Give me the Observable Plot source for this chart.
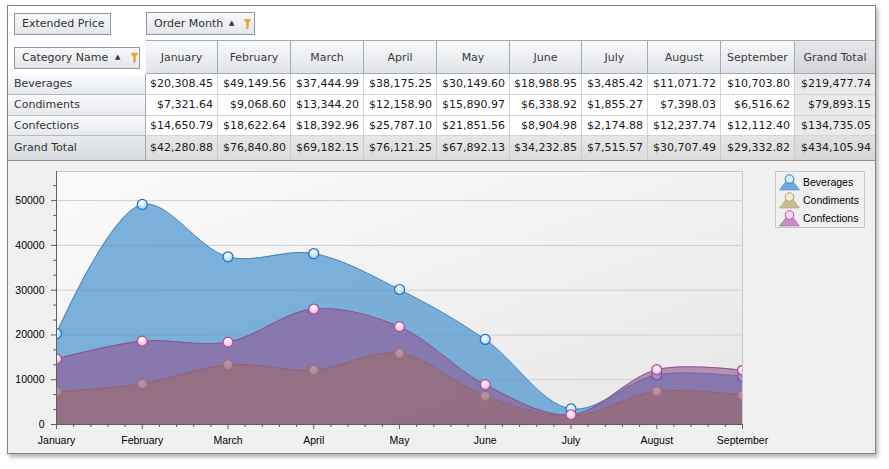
<!DOCTYPE html>
<html>
<head>
<meta charset="utf-8">
<script src="https://cdn.jsdelivr.net/npm/d3@7"></script>
<script src="https://cdn.jsdelivr.net/npm/@observablehq/plot@0.6"></script>
<style>
  html, body { margin: 0; padding: 0; }
  body { width: 889px; height: 469px; position: relative; background: #ffffff; overflow: hidden;
         font-family: "DejaVu Sans", Verdana, sans-serif; font-size: 11px; color: #222; }
  .frame { position: absolute; left: 7px; top: 5px; width: 869px; height: 449px; box-sizing: border-box;
           border: 1px solid #858585; background: #fff; box-shadow: 2px 3px 4px rgba(0,0,0,0.3); }
  .chartbg { position: absolute; left: 8px; top: 160px; width: 867px; height: 293px; box-sizing: border-box;
             border-top: 1px solid #8f8f8f; background: #f0f0f0; }
  .cell { position: absolute; box-sizing: border-box; white-space: nowrap; overflow: hidden; }
  .hdr { background: linear-gradient(#f8f9fb, #e1e4e9); border-top: 1px solid #a3abb7; border-right: 1px solid #a3abb7;
         border-bottom: 1px solid #a3abb7; text-align: center; color: #3a3a3a; }
  .hdrTot { background: linear-gradient(#e6e7ea, #d3d5d9); border-top: 1px solid #a3abb7; border-bottom: 1px solid #a3abb7;
            text-align: center; color: #3a3a3a; }
  .rowh { background: linear-gradient(#fbfbfc, #e6e9ed); border-right: 1px solid #a3abb7; border-bottom: 1px solid #b4bac3;
          padding-left: 6px; color: #333; }
  .rowhTot { background: linear-gradient(#e9eaec, #d6d9dd); border-right: 1px solid #a3abb7; padding-left: 6px; color: #333; }
  .num { background: #fff; border-right: 1px solid #d4d4d4; border-bottom: 1px solid #d4d4d4; text-align: right; padding-right: 4px; color: #1a1a1a; }
  .numTotCol { background: #eaeaea; border-bottom: 1px solid #d4d4d4; text-align: right; padding-right: 4px; color: #1a1a1a; }
  .numTotRow { background: linear-gradient(#e6e6e6, #dcdcdc); border-right: 1px solid #cacaca; text-align: right; padding-right: 4px; color: #1a1a1a; }
  .numGrand { background: linear-gradient(#e0e0e0, #d6d6d6); text-align: right; padding-right: 4px; color: #1a1a1a; }
  .btn { position: absolute; box-sizing: border-box; border: 1px solid #8d97a5; background: linear-gradient(#f8f9fb, #e3e6ea);
         color: #333; white-space: nowrap; padding-left: 7px; }
  .arrow { font-size: 7px; color: #333; position: absolute; top: 0; }
  .funnel { position: absolute; display: block; }
  .funnel svg { display: block; }
  .legend { position: absolute; left: 775px; top: 171px; width: 90px; height: 57px; box-sizing: border-box;
            border: 1px solid #c8c8c8; background: #f0f0f0; font-family: "Liberation Sans", Arial, sans-serif; font-size: 10.5px; color: #000; }
  .litem { position: absolute; left: 2px; height: 18px; line-height: 18px; }
  .litem svg { position: absolute; left: 0; top: 0; }
  .litem span { position: absolute; left: 25px; top: 0; white-space: nowrap; }
  #chart { position: absolute; left: 0; top: 161px; }
</style>
</head>
<body>
<svg width="0" height="0" style="position:absolute;left:0;top:0">
  <defs>
    <linearGradient id="plotBg" x1="0" y1="0" x2="1" y2="1">
      <stop offset="0" stop-color="#fbfbfb"/>
      <stop offset="1" stop-color="#e7e7e7"/>
    </linearGradient>
    <radialGradient id="bevDot" cx="0.45" cy="0.35" r="0.65">
      <stop offset="0" stop-color="#ffffff"/>
      <stop offset="1" stop-color="#a6d3f3"/>
    </radialGradient>
    <radialGradient id="condDot" cx="0.45" cy="0.35" r="0.65">
      <stop offset="0" stop-color="#fbf6e4"/>
      <stop offset="1" stop-color="#d9c890"/>
    </radialGradient>
    <radialGradient id="confDot" cx="0.45" cy="0.35" r="0.65">
      <stop offset="0" stop-color="#ffffff"/>
      <stop offset="1" stop-color="#e4b4dc"/>
    </radialGradient>
  </defs>
</svg>
<div class="frame"></div>
<div class="chartbg"></div>
<div id="chart"></div>
<div class="legend" id="legend"></div>
<script>
// ---------- data ----------
const months = ["January", "February", "March", "April", "May", "June", "July", "August", "September"];
const categories = ["Beverages", "Condiments", "Confections"];
const beverages   = [20308.45, 49149.56, 37444.99, 38175.25, 30149.60, 18988.95, 3485.42, 11071.72, 10703.80];
const condiments  = [7321.64, 9068.60, 13344.20, 12158.90, 15890.97, 6338.92, 1855.27, 7398.03, 6516.62];
const confections = [14650.79, 18622.64, 18392.96, 25787.10, 21851.56, 8904.98, 2174.88, 12237.74, 12112.40];
const monthTotals = [42280.88, 76840.80, 69182.15, 76121.25, 67892.13, 34232.85, 7515.57, 30707.49, 29332.82];
const categoryTotals = [219477.74, 79893.15, 134735.05];
const grandTotal = 434105.94;
const yTickValues = [0, 10000, 20000, 30000, 40000, 50000];

const seriesValues = [beverages, condiments, confections];
const fmt = v => "$" + d3.format(",.2f")(v);

// ---------- pivot grid ----------
const root = document.body;
const colEdges = [8, 146, 218, 291, 364, 437, 510, 582, 648, 721, 795, 875];
const rowEdges = [40, 74, 95, 116, 136, 160];
function cell(x0, x1, y0, y1, text, cls) {
  const d = document.createElement("div");
  d.className = "cell " + cls;
  d.style.left = x0 + "px"; d.style.top = y0 + "px";
  d.style.width = (x1 - x0) + "px"; d.style.height = (y1 - y0) + "px";
  d.style.lineHeight = (y1 - y0 - 1) + "px";
  d.textContent = text;
  root.appendChild(d);
}
// header row
months.forEach((m, j) => cell(colEdges[j + 1], colEdges[j + 2], rowEdges[0], rowEdges[1], m, "hdr"));
cell(colEdges[10], colEdges[11], rowEdges[0], rowEdges[1], "Grand Total", "hdrTot");
// data rows
categories.forEach((c, i) => {
  cell(colEdges[0], colEdges[1], rowEdges[i + 1], rowEdges[i + 2], c, "rowh");
  seriesValues[i].forEach((v, j) => cell(colEdges[j + 1], colEdges[j + 2], rowEdges[i + 1], rowEdges[i + 2], fmt(v), "num"));
  cell(colEdges[10], colEdges[11], rowEdges[i + 1], rowEdges[i + 2], fmt(categoryTotals[i]), "numTotCol");
});
cell(colEdges[0], colEdges[1], rowEdges[4], rowEdges[5], "Grand Total", "rowhTot");
monthTotals.forEach((v, j) => cell(colEdges[j + 1], colEdges[j + 2], rowEdges[4], rowEdges[5], fmt(v), "numTotRow"));
cell(colEdges[10], colEdges[11], rowEdges[4], rowEdges[5], fmt(grandTotal), "numGrand");

// field buttons
const funnelSvg = '<svg width="7" height="10" viewBox="0 0 7 10"><path d="M0,0 H7 L4.3,4 V9 L2.7,10 V4 Z" fill="#f5a623" stroke="#d98a10" stroke-width="0.5"/></svg>';
function button(x, y, w, h, text, arrowX, funnelX) {
  const b = document.createElement("div");
  b.className = "btn";
  b.style.left = x + "px"; b.style.top = y + "px"; b.style.width = w + "px"; b.style.height = h + "px";
  b.style.lineHeight = (h - 2) + "px";
  b.textContent = text;
  if (arrowX != null) {
    const a = document.createElement("span");
    a.className = "arrow"; a.textContent = "\u25B2"; a.style.left = (arrowX - x) + "px";
    a.style.lineHeight = (h - 3) + "px";
    b.appendChild(a);
    const f = document.createElement("span");
    f.className = "funnel"; f.innerHTML = funnelSvg; f.style.left = (funnelX - x) + "px"; f.style.top = Math.round((h - 2 - 10) / 2) + "px";
    b.appendChild(f);
  }
  root.appendChild(b);
}
button(14, 13, 97, 22, "Extended Price");
button(146, 12, 109, 23, "Order Month", 228, 243);
button(14, 47, 126, 22, "Category Name", 114, 130);

// ---------- chart ----------
const rows = months.map((m, i) => ({ i, month: m, bev: beverages[i], cond: condiments[i], conf: confections[i] }));
const series = [
  { key: "bev",  fill: "#4793d0", opacity: 0.7, line: "#4a7fb5", dot: "url(#bevDot)",  dotStroke: "#1f72c2" },
  { key: "cond", fill: "#b08e2b", opacity: 0.6, line: "#97744e", dot: "url(#condDot)", dotStroke: "#a8904a" },
  { key: "conf", fill: "#915391", opacity: 0.6, line: "#8a4f8a", dot: "url(#confDot)", dotStroke: "#b04a98" }
];
const seriesMarks = series.flatMap(s => [
  Plot.areaY(rows, { x: "i", y: s.key, curve: "catmull-rom", fill: s.fill, fillOpacity: s.opacity }),
  Plot.lineY(rows, { x: "i", y: s.key, curve: "catmull-rom", stroke: s.line, strokeWidth: 1, strokeOpacity: 0.9 }),
  Plot.dot(rows, { x: "i", y: s.key, r: 5, fill: s.dot, stroke: s.dotStroke, strokeWidth: 1.2, clip: "frame" })
]);
const minorY = d3.range(0, 56000, 10000 / 3).filter((v, k) => k % 3 !== 0);
const minorX = d3.range(0, 40).map(k => k / 5).filter((v, k) => k % 5 !== 0);

const chart = Plot.plot({
  width: 889, height: 292,
  marginLeft: 56, marginRight: 147, marginTop: 10, marginBottom: 29,
  x: { type: "linear", domain: [0, 8] },
  y: { domain: [0, 56500] },
  style: { fontFamily: "'Liberation Sans', Arial, sans-serif", fontSize: "10.5px", background: "transparent", overflow: "visible", color: "#000" },
  marks: [
    Plot.frame({ fill: "url(#plotBg)", stroke: "#c9c9c9" }),
    Plot.gridY(yTickValues.slice(1), { stroke: "#cfcfcf", strokeOpacity: 1 }),
    ...seriesMarks,
    Plot.ruleX([0], { stroke: "#5f5f5f" }),
    Plot.ruleY([0], { stroke: "#5f5f5f" }),
    Plot.axisY(yTickValues, { tickSize: 5, tickPadding: 7, tickFormat: d3.format("d"), stroke: "#5f5f5f", fill: "#000", label: null }),
    Plot.axisY(minorY, { tickSize: 3, tickFormat: () => "", stroke: "#5f5f5f", label: null }),
    Plot.axisX(d3.range(months.length), { tickSize: 5, tickPadding: 7, tickFormat: i => months[i], stroke: "#5f5f5f", fill: "#000", label: null }),
    Plot.axisX(minorX, { tickSize: 3, tickFormat: () => "", stroke: "#5f5f5f", label: null })
  ]
});
document.getElementById("chart").appendChild(chart);

// ---------- legend ----------
const legendIcons = [
  { area: "#6fa8da", areaStroke: "#4a88c4", dot: "#d3ebfa", dotStroke: "#2f80c8" },
  { area: "#cbbb95", areaStroke: "#b0a274", dot: "#f1ead0", dotStroke: "#b4a46c" },
  { area: "#c68ec2", areaStroke: "#a868a4", dot: "#f3d6ee", dotStroke: "#b45aa6" }
];
const legend = document.getElementById("legend");
categories.forEach((c, i) => {
  const it = document.createElement("div");
  it.className = "litem";
  it.style.top = (1 + i * 18) + "px";
  const ic = legendIcons[i];
  it.innerHTML = `<svg width="24" height="18"><polygon points="1.5,17 21.5,17 14,7 9,7" fill="${ic.area}" stroke="${ic.areaStroke}" stroke-width="0.6"/><circle cx="11.5" cy="6" r="4.3" fill="${ic.dot}" stroke="${ic.dotStroke}" stroke-width="1"/></svg><span>${c}</span>`;
  legend.appendChild(it);
});
</script>
</body>
</html>
